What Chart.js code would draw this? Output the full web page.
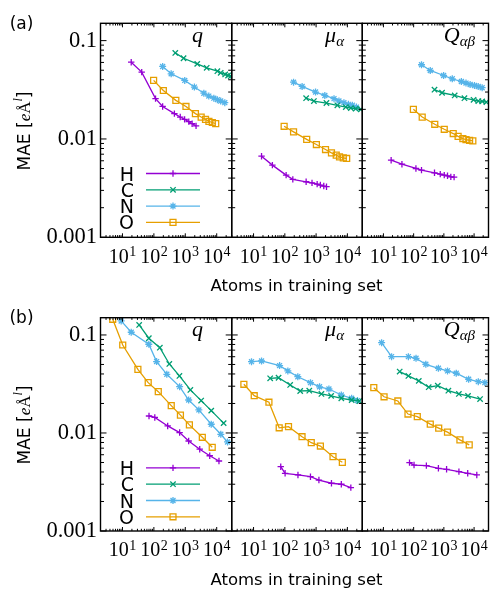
<!DOCTYPE html>
<html><head><meta charset="utf-8">
<script src="https://cdn.jsdelivr.net/npm/chart.js@4.4.1/dist/chart.umd.min.js"></script>
<style>
body{margin:0;background:#fff;}
#wrap{position:relative;width:494px;height:591px;overflow:hidden;background:#fff}
canvas{position:absolute;left:0;top:0}
.t{position:absolute;line-height:1;white-space:nowrap;color:#000}
.sans{font-family:"DejaVu Sans",sans-serif}
.ser{font-family:"Liberation Serif",serif}
.it{font-style:italic}
</style></head><body>
<div id="wrap">
<canvas id="c0" width="494" height="591"></canvas>
<canvas id="c1" width="494" height="591"></canvas>
<canvas id="c2" width="494" height="591"></canvas>
<canvas id="c3" width="494" height="591"></canvas>
<canvas id="c4" width="494" height="591"></canvas>
<canvas id="c5" width="494" height="591"></canvas>
<div id="txt"></div>
</div>
<script>
// ---------------- data ----------------
const ELEMENTS = ['H', 'C', 'N', 'O'];
const PANEL_TITLES = ['q', 'μα', 'Qαβ'];
const ROW_LABELS = ['(a)', '(b)'];
const X_TICK_EXPONENTS = [1, 2, 3, 4];
const Y_TICK_VALUES = [0.1, 0.01, 0.001];
const Y_TICK_LABELS = ['0.1', '0.01', '0.001'];

// (a) q
const A_Q_H_X = [19, 41, 113, 190, 450, 690, 950, 1290, 1650, 2200];
const A_Q_H_Y = [0.0603, 0.0478, 0.0257, 0.0214, 0.0181, 0.0167, 0.0158, 0.0150, 0.0143, 0.0136];
const A_Q_C_X = [480, 880, 2400, 4800, 10500, 13400, 18600, 23000, 28000];
const A_Q_C_Y = [0.075, 0.0662, 0.058, 0.0529, 0.0489, 0.0471, 0.0453, 0.0442, 0.0435];
const A_Q_N_X = [190, 355, 960, 1950, 3900, 5600, 8100, 10500, 13400, 18100];
const A_Q_N_Y = [0.0546, 0.046, 0.0394, 0.0337, 0.0292, 0.0273, 0.026, 0.0251, 0.0243, 0.0234];
const A_Q_O_X = [98, 200, 500, 1050, 2100, 3200, 4400, 5650, 7250, 9300];
const A_Q_O_Y = [0.0394, 0.0311, 0.0247, 0.0214, 0.0181, 0.0167, 0.0158, 0.0151, 0.0147, 0.0143];
// (a) mu
const A_M_H_X = [18, 40, 110, 180, 480, 740, 1080, 1370, 1760, 2150];
const A_M_H_Y = [0.00668, 0.00542, 0.00429, 0.00388, 0.00367, 0.00358, 0.00347, 0.0034, 0.00332, 0.00327];
const A_M_C_X = [480, 850, 2140, 4780, 8900, 12900, 18500, 27000];
const A_M_C_Y = [0.026, 0.0243, 0.0232, 0.022, 0.0211, 0.0206, 0.0203, 0.020];
const A_M_N_X = [190, 357, 960, 1900, 3740, 5370, 7750, 10800, 14400, 19500];
const A_M_N_Y = [0.0378, 0.0342, 0.030, 0.0277, 0.0257, 0.0243, 0.0234, 0.0225, 0.0220, 0.0211];
const A_M_O_X = [95, 190, 500, 1020, 2000, 3100, 4400, 5600, 7400, 9500];
const A_M_O_Y = [0.01345, 0.0118, 0.0099, 0.00878, 0.00781, 0.00722, 0.00684, 0.00657, 0.00642, 0.00633];
// (a) Q
const A_Qd_H_X = [18, 41, 119, 182, 490, 760, 1030, 1320, 1700, 2180];
const A_Qd_H_Y = [0.00608, 0.00554, 0.00501, 0.00482, 0.00453, 0.00439, 0.00429, 0.00422, 0.00412, 0.00409];
const A_Qd_C_X = [490, 870, 2280, 4800, 9600, 13800, 18500, 25500];
const A_Qd_C_Y = [0.0317, 0.0295, 0.0277, 0.026, 0.025, 0.0243, 0.0241, 0.0237];
const A_Qd_N_X = [182, 355, 980, 1900, 3800, 5400, 7400, 10300, 13700, 18500];
const A_Qd_N_Y = [0.0568, 0.0497, 0.0442, 0.0409, 0.0384, 0.037, 0.0358, 0.035, 0.0342, 0.0332];
const A_Qd_O_X = [98, 192, 500, 1030, 2040, 2960, 4250, 5400, 7100, 9100];
const A_Qd_O_Y = [0.020, 0.0167, 0.0141, 0.01254, 0.01135, 0.01064, 0.0101, 0.00986, 0.0097, 0.00955];
// (b) q
const B_Q_H_X = [70, 107, 275, 660, 1280, 2880, 6000, 11800];
const B_Q_H_Y = [0.0149, 0.0144, 0.0118, 0.0101, 0.00828, 0.00683, 0.00586, 0.00518];
const B_Q_C_X = [34, 69, 155, 310, 650, 1450, 3200, 6700, 16600];
const B_Q_C_Y = [0.1265, 0.0926, 0.0741, 0.0506, 0.0382, 0.0275, 0.0214, 0.0169, 0.0126];
const B_Q_N_X = [9.1, 19, 69, 122, 258, 660, 1280, 2700, 6700, 13500, 22100];
const B_Q_N_Y = [0.139, 0.1066, 0.0804, 0.0535, 0.0397, 0.0297, 0.0217, 0.0172, 0.01228, 0.0097, 0.0081];
const B_Q_O_X = [4.9, 10.2, 31, 66, 138, 357, 700, 1350, 3480, 7200];
const B_Q_O_Y = [0.1445, 0.079, 0.0446, 0.0326, 0.0264, 0.019, 0.0152, 0.0121, 0.00904, 0.00715];
// (b) mu
const B_M_H_X = [74, 102, 263, 660, 1230, 3100, 6400, 12900];
const B_M_H_Y = [0.00453, 0.00388, 0.00373, 0.00358, 0.00331, 0.00307, 0.003, 0.00277];
const B_M_C_X = [34, 63, 148, 310, 605, 1480, 3030, 6400, 13700, 24000];
const B_M_C_Y = [0.0361, 0.0366, 0.0309, 0.0268, 0.027, 0.025, 0.0239, 0.0226, 0.0217, 0.0212];
const B_M_N_X = [8.6, 18, 68, 125, 260, 660, 1290, 2570, 6400, 13700, 21000];
const B_M_N_Y = [0.0534, 0.0543, 0.0487, 0.043, 0.0375, 0.0326, 0.0296, 0.0281, 0.0244, 0.0226, 0.0214];
const B_M_O_X = [4.9, 10.5, 31, 66, 131, 355, 700, 1370, 3470, 6900];
const B_M_O_Y = [0.0314, 0.024, 0.0206, 0.0113, 0.0116, 0.00916, 0.00796, 0.00736, 0.00573, 0.00502];
// (b) Q
const B_Qd_H_X = [73, 103, 264, 660, 1230, 3150, 6150, 12300];
const B_Qd_H_Y = [0.00498, 0.00471, 0.00464, 0.00436, 0.00426, 0.00403, 0.00388, 0.00373];
const B_Qd_C_X = [34.5, 67, 148, 315, 630, 1410, 3140, 6300, 15800];
const B_Qd_C_Y = [0.0423, 0.0382, 0.034, 0.0293, 0.0304, 0.027, 0.025, 0.0239, 0.0222];
const B_Qd_N_X = [8.7, 18.6, 67, 120, 253, 660, 1320, 2570, 6600, 13800, 22700];
const B_Qd_N_Y = [0.0834, 0.0601, 0.0601, 0.0578, 0.0502, 0.0457, 0.043, 0.0407, 0.0353, 0.0334, 0.0326];
const B_Qd_O_X = [4.8, 10.5, 30, 65, 132, 355, 675, 1320, 3400, 6900];
const B_Qd_O_Y = [0.029, 0.0234, 0.0212, 0.0156, 0.0147, 0.0123, 0.0112, 0.0102, 0.0085, 0.00755];

// ---------------- layout & style ----------------
const X_MIN = 2, X_MAX = 3e4, Y_MIN = 0.001, Y_MAX = 0.15;
const W = 494, H = 591;
const COL_L = [100.5, 231.7, 362.3], COL_R = [231.7, 362.3, 492];
const ROW_T = [23.3, 317.7], ROW_B = [237.3, 531];
const COLORS = ['#9400d3', '#009e73', '#56b4e9', '#e69f00'];
const STYLES = ['cross', 'crossRot', 'star', 'rect'];
const RADII = [3.2, 3.8, 3.5, 4.2];
const LEG_DY = [150.2, 166.5, 182.8, 199.1];
const SERIF = '"Liberation Serif", serif';

const PANEL_SERIES = [
  [[A_Q_H_X, A_Q_H_Y], [A_Q_C_X, A_Q_C_Y], [A_Q_N_X, A_Q_N_Y], [A_Q_O_X, A_Q_O_Y]],
  [[A_M_H_X, A_M_H_Y], [A_M_C_X, A_M_C_Y], [A_M_N_X, A_M_N_Y], [A_M_O_X, A_M_O_Y]],
  [[A_Qd_H_X, A_Qd_H_Y], [A_Qd_C_X, A_Qd_C_Y], [A_Qd_N_X, A_Qd_N_Y], [A_Qd_O_X, A_Qd_O_Y]],
  [[B_Q_H_X, B_Q_H_Y], [B_Q_C_X, B_Q_C_Y], [B_Q_N_X, B_Q_N_Y], [B_Q_O_X, B_Q_O_Y]],
  [[B_M_H_X, B_M_H_Y], [B_M_C_X, B_M_C_Y], [B_M_N_X, B_M_N_Y], [B_M_O_X, B_M_O_Y]],
  [[B_Qd_H_X, B_Qd_H_Y], [B_Qd_C_X, B_Qd_C_Y], [B_Qd_N_X, B_Qd_N_Y], [B_Qd_O_X, B_Qd_O_Y]]
];

function marker(ctx, style, x, y, r) {
  ctx.beginPath();
  const d = r * Math.SQRT1_2;
  if (style === 'cross' || style === 'star') {
    ctx.moveTo(x - r, y); ctx.lineTo(x + r, y);
    ctx.moveTo(x, y - r); ctx.lineTo(x, y + r);
  }
  if (style === 'crossRot' || style === 'star') {
    ctx.moveTo(x - d, y - d); ctx.lineTo(x + d, y + d);
    ctx.moveTo(x - d, y + d); ctx.lineTo(x + d, y - d);
  }
  if (style === 'rect') ctx.rect(x - d, y - d, 2 * d, 2 * d);
  ctx.stroke();
}

const framePlugin = {
  id: 'frame',
  afterDatasetsDraw(chart, args, opts) {
    const ctx = chart.ctx, a = chart.chartArea;
    const xs = chart.scales.x, ys = chart.scales.y;
    ctx.save();
    ctx.strokeStyle = '#000';
    ctx.lineWidth = 1;
    ctx.beginPath();
    for (let e = 0; e <= 4; e++) for (let m = 1; m <= 9; m++) {
      const v = m * Math.pow(10, e);
      if (v < X_MIN || v > X_MAX) continue;
      const p = xs.getPixelForValue(v);
      const len = m === 1 ? 4 : 2.2;
      ctx.moveTo(p, a.bottom); ctx.lineTo(p, a.bottom - len);
      ctx.moveTo(p, a.top); ctx.lineTo(p, a.top + len);
    }
    for (let e = -3; e <= -1; e++) for (let m = 1; m <= 9; m++) {
      const v = m * Math.pow(10, e);
      if (v < Y_MIN * 0.999 || v > Y_MAX) continue;
      const p = ys.getPixelForValue(v);
      const len = m === 1 ? 6 : 3.5;
      ctx.moveTo(a.left, p); ctx.lineTo(a.left + len, p);
      ctx.moveTo(a.right, p); ctx.lineTo(a.right - len, p);
    }
    ctx.stroke();
    ctx.lineWidth = 1.4;
    ctx.strokeRect(a.left, a.top, a.right - a.left, a.bottom - a.top);

    // x tick labels 10^n
    ctx.fillStyle = '#000';
    ctx.textAlign = 'left';
    ctx.textBaseline = 'alphabetic';
    X_TICK_EXPONENTS.forEach(e => {
      const p = xs.getPixelForValue(Math.pow(10, e));
      ctx.font = '20px ' + SERIF;
      const w1 = ctx.measureText('10').width;
      ctx.font = '14px ' + SERIF;
      const w2 = ctx.measureText(String(e)).width;
      const left = p - (w1 + w2 + 0.5) / 2;
      ctx.font = '20px ' + SERIF;
      ctx.fillText('10', left, a.bottom + 25.4);
      ctx.font = '14px ' + SERIF;
      ctx.fillText(String(e), left + w1 + 0.5, a.bottom + 25.4 - 6.5);
    });

    if (opts.col === 0) {
      ctx.font = '22.5px ' + SERIF;
      ctx.textAlign = 'right';
      ctx.textBaseline = 'middle';
      Y_TICK_VALUES.forEach((v, i) => ctx.fillText(Y_TICK_LABELS[i], a.left - 3.5, ys.getPixelForValue(v)));
      // legend samples
      chart.data.datasets.forEach((ds, i) => {
        const yy = a.top + LEG_DY[i];
        ctx.strokeStyle = ds.borderColor;
        ctx.lineWidth = 1.3;
        ctx.beginPath(); ctx.moveTo(146, yy); ctx.lineTo(200, yy); ctx.stroke();
        marker(ctx, ds.pointStyle, 173, yy, ds.pointRadius);
      });
    }
    ctx.restore();
  }
};

PANEL_SERIES.forEach((series, k) => {
  const row = Math.floor(k / 3), col = k % 3;
  const datasets = series.map(([xsArr, ysArr], i) => ({
    label: ELEMENTS[i],
    data: xsArr.map((x, j) => ({ x: x, y: ysArr[j] })),
    borderColor: COLORS[i],
    backgroundColor: 'rgba(0,0,0,0)',
    borderWidth: 1.3,
    pointStyle: STYLES[i],
    pointRadius: RADII[i],
    pointBorderColor: COLORS[i],
    pointBackgroundColor: 'rgba(0,0,0,0)',
    pointBorderWidth: 1.3,
    tension: 0,
    fill: false
  }));
  new Chart(document.getElementById('c' + k), {
    type: 'line',
    data: { datasets },
    options: {
      responsive: false,
      animation: false,
      events: [],
      layout: { padding: { left: COL_L[col], right: W - COL_R[col], top: ROW_T[row], bottom: H - ROW_B[row] } },
      scales: {
        x: { type: 'logarithmic', min: X_MIN, max: X_MAX, display: false },
        y: { type: 'logarithmic', min: Y_MIN, max: Y_MAX, display: false }
      },
      plugins: { legend: { display: false }, tooltip: { enabled: false }, frame: { col: col, row: row } }
    },
    plugins: [framePlugin]
  });
});

// ---------------- text ----------------
const txt = document.getElementById('txt');
function add(html, cls, style) {
  const d = document.createElement('div');
  d.className = 't ' + cls;
  d.setAttribute('style', style);
  d.innerHTML = html;
  txt.appendChild(d);
}
const ROW_OFF = [0, 294.4];
const SUB = 'font-size:15px;vertical-align:-4px;font-style:italic;font-family:' + SERIF;
const TITLE_HTML = [
  '<i>' + PANEL_TITLES[0] + '</i>',
  '<i>' + PANEL_TITLES[1][0] + '</i><span style="' + SUB + '">' + PANEL_TITLES[1].slice(1) + '</span>',
  '<i>' + PANEL_TITLES[2][0] + '</i><span style="' + SUB + '">' + PANEL_TITLES[2].slice(1) + '</span>'
];
const TITLE_RIGHT = [203, 344, 475];
[0, 1].forEach(r => {
  const o = ROW_OFF[r];
  add(ROW_LABELS[r], 'sans', `left:21.5px;top:${23 + o}px;font-size:17px;transform:translate(-50%,-50%)`);
  add('MAE [<span class="ser it">e</span><span class="ser">Å</span><span class="ser it" style="font-size:12px;vertical-align:8px">l</span>]', 'sans',
      `left:21.5px;top:${131 + o}px;font-size:17px;transform:translate(-50%,-50%) rotate(-90deg)`);
  add('Atoms in training set', 'sans', `left:296.5px;top:${285.5 + o}px;font-size:16.5px;transform:translate(-50%,-50%)`);
  ELEMENTS.forEach((el, i) => {
    add(el, 'sans', `right:${W - 134}px;top:${173.5 + LEG_DY[i] - LEG_DY[0] + o}px;font-size:19px;transform:translateY(-50%)`);
  });
  TITLE_HTML.forEach((h, c) => {
    add(h, 'ser', `right:${W - TITLE_RIGHT[c]}px;top:${42.3 - 0.8375 * 22 + o}px;font-size:22px`);
  });
});
</script>
</body></html>
